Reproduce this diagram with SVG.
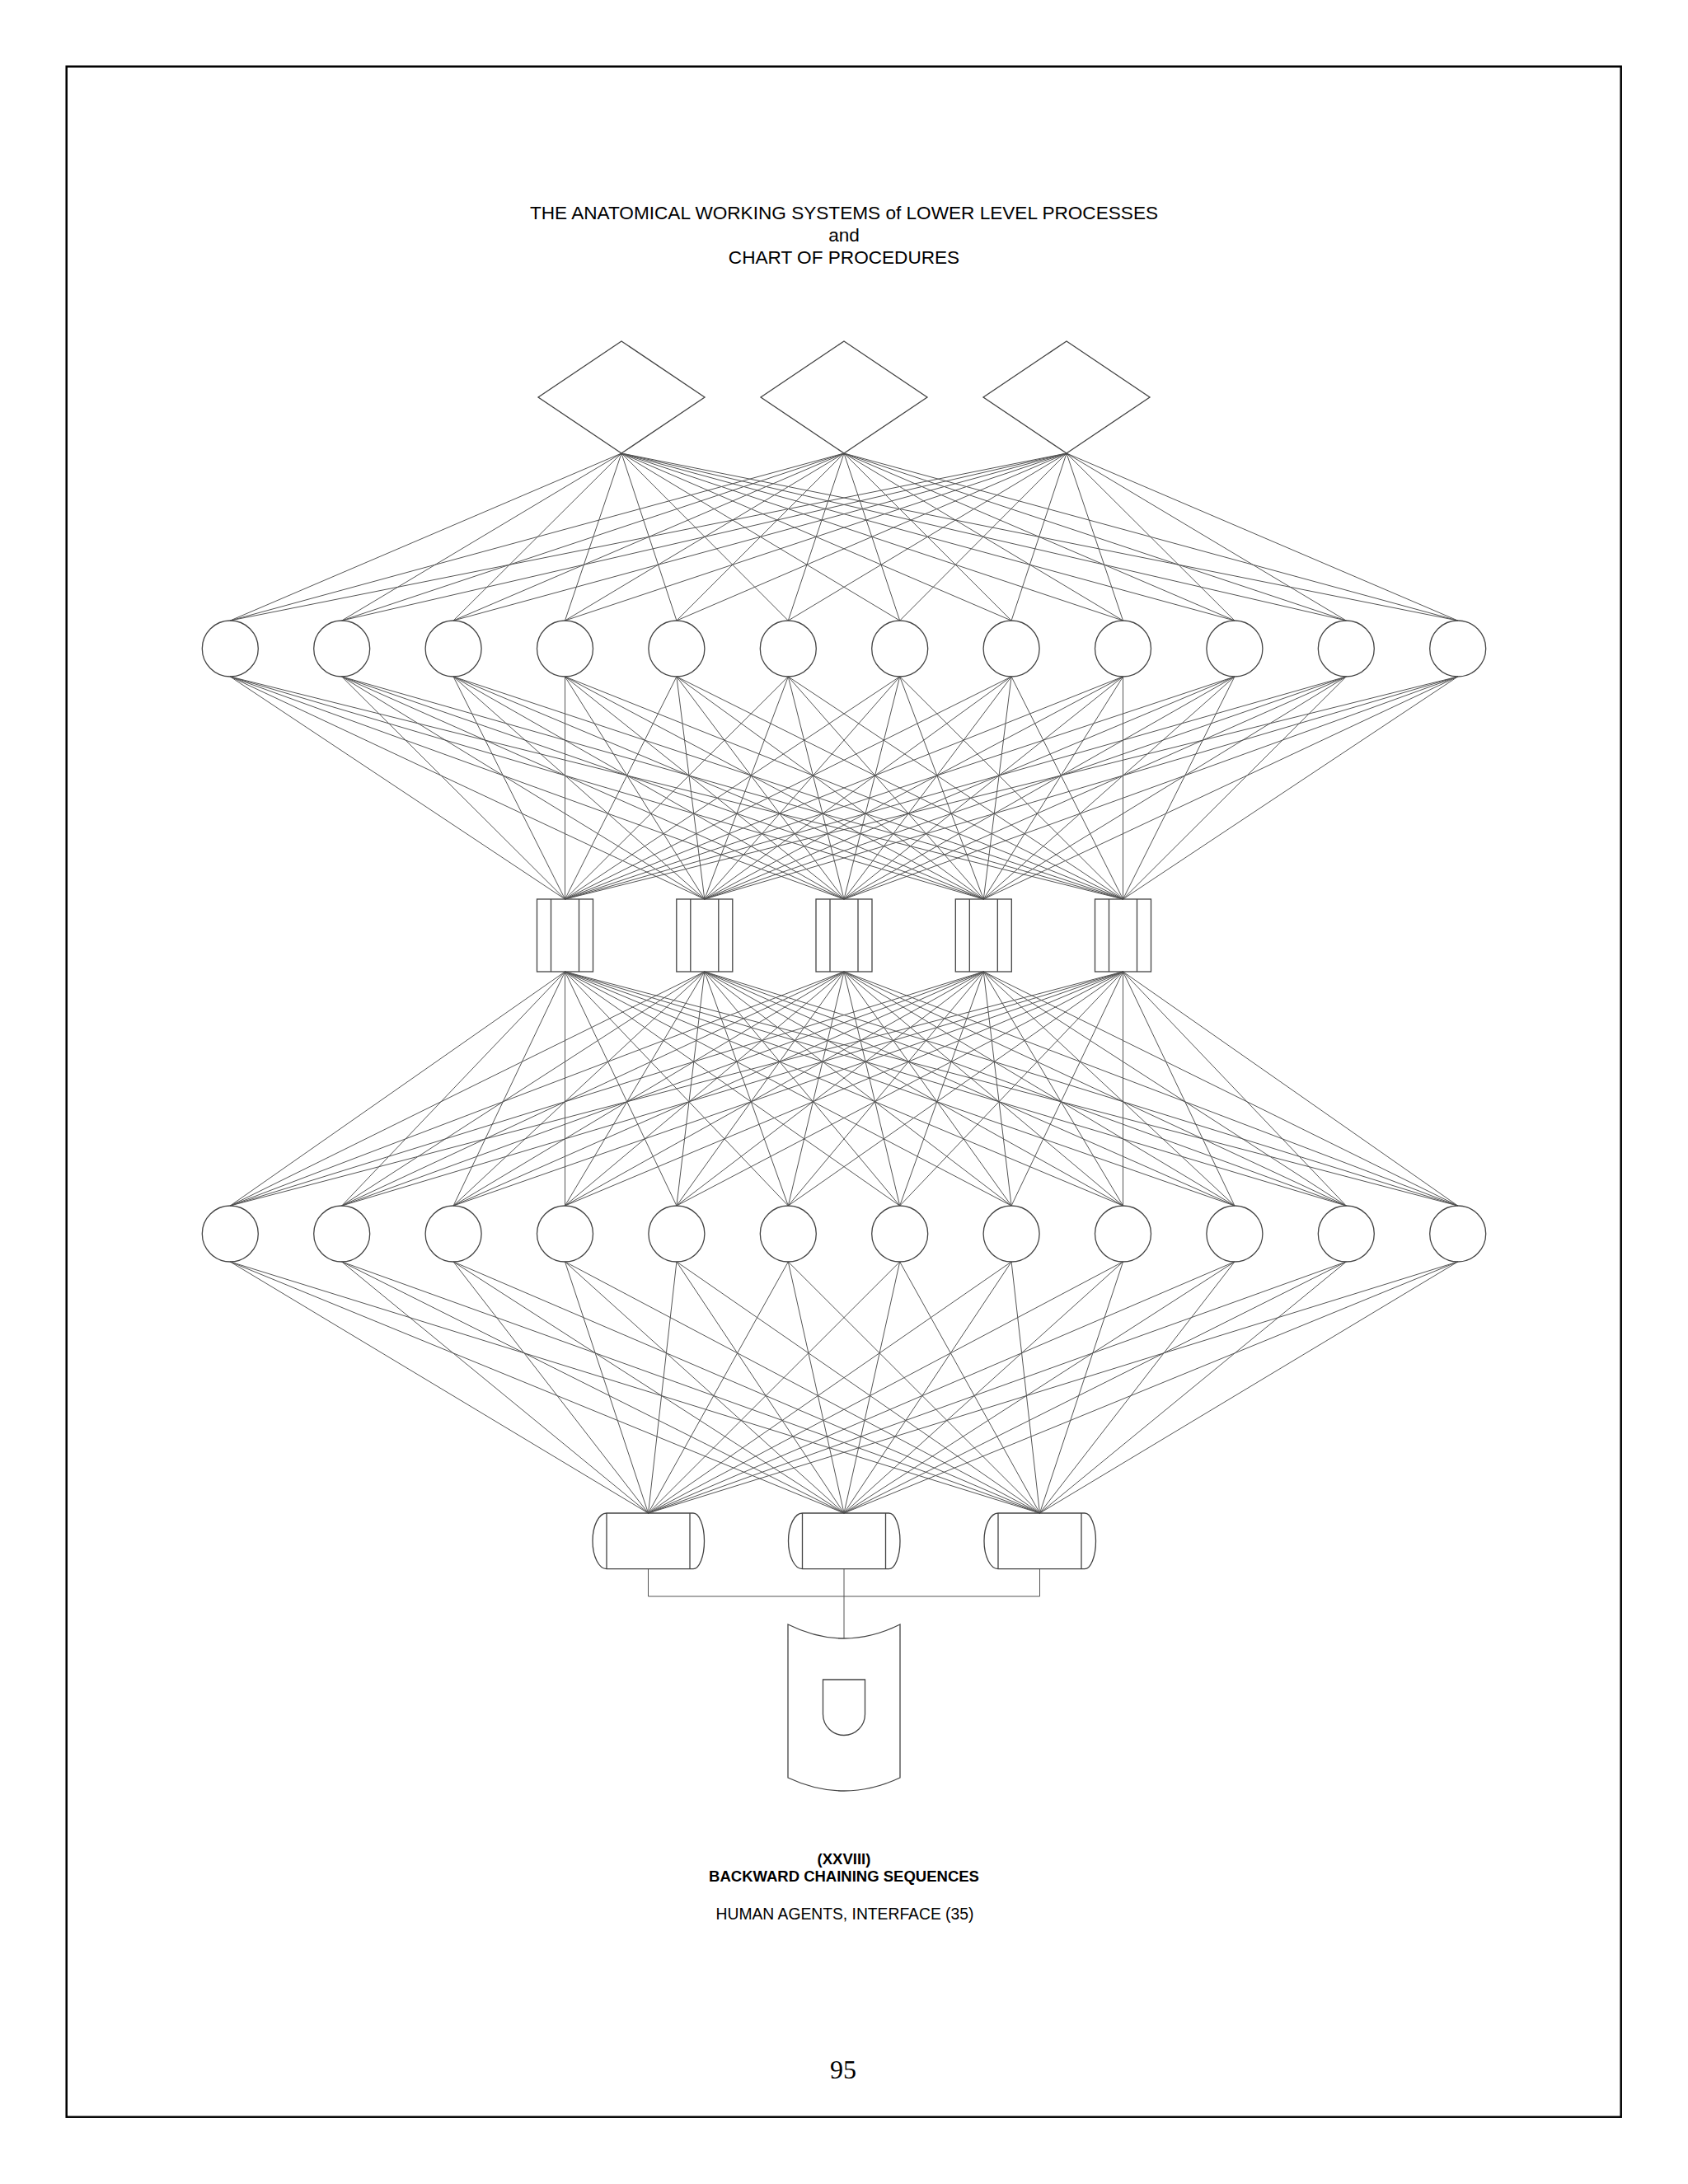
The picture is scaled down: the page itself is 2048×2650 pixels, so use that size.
<svg xmlns="http://www.w3.org/2000/svg" width="2048" height="2650" viewBox="0 0 2048 2650">
<style>
.shape{fill:none;stroke:#444;stroke-width:1.3}
.conn{fill:none;stroke:#555;stroke-width:1}
.title{font-family:"Liberation Sans",Arial,sans-serif;font-size:22.6px;fill:#000;text-anchor:middle}
.cap{font-family:"Liberation Sans",Arial,sans-serif;font-size:18.5px;font-weight:bold;fill:#000;text-anchor:middle}
.sub{font-family:"Liberation Sans",Arial,sans-serif;font-size:19.3px;fill:#000;text-anchor:middle}
.page{font-family:"Liberation Serif","Times New Roman",serif;font-size:32px;fill:#000;text-anchor:middle}
</style>
<rect x="0" y="0" width="2048" height="2650" fill="#fff"/>
<rect x="80.7" y="80.7" width="1886" height="2488" fill="none" stroke="#000" stroke-width="2.5"/>
<g id="title">
<text class="title" x="1024" y="266">THE ANATOMICAL WORKING SYSTEMS of LOWER LEVEL PROCESSES</text>
<text class="title" x="1024" y="293">and</text>
<text class="title" x="1024" y="320">CHART OF PROCEDURES</text>
</g>
<g id="connectors" class="conn">
<path d="M754,550L279.3,753M754,550L414.7,753M754,550L550.1,753M754,550L685.5,753M754,550L820.9,753M754,550L956.3,753M754,550L1091.7,753M754,550L1227.1,753M754,550L1362.5,753M754,550L1497.9,753M754,550L1633.3,753M754,550L1768.7,753"/>
<path d="M1024,550L279.3,753M1024,550L414.7,753M1024,550L550.1,753M1024,550L685.5,753M1024,550L820.9,753M1024,550L956.3,753M1024,550L1091.7,753M1024,550L1227.1,753M1024,550L1362.5,753M1024,550L1497.9,753M1024,550L1633.3,753M1024,550L1768.7,753"/>
<path d="M1294,550L279.3,753M1294,550L414.7,753M1294,550L550.1,753M1294,550L685.5,753M1294,550L820.9,753M1294,550L956.3,753M1294,550L1091.7,753M1294,550L1227.1,753M1294,550L1362.5,753M1294,550L1497.9,753M1294,550L1633.3,753M1294,550L1768.7,753"/>
<path d="M279.3,821L685.5,1091M279.3,821L854.8,1091M279.3,821L1024,1091M279.3,821L1193.3,1091M279.3,821L1362.5,1091
M414.7,821L685.5,1091M414.7,821L854.8,1091M414.7,821L1024,1091M414.7,821L1193.3,1091M414.7,821L1362.5,1091
M550.1,821L685.5,1091M550.1,821L854.8,1091M550.1,821L1024,1091M550.1,821L1193.3,1091M550.1,821L1362.5,1091
M685.5,821L685.5,1091M685.5,821L854.8,1091M685.5,821L1024,1091M685.5,821L1193.3,1091M685.5,821L1362.5,1091
M820.9,821L685.5,1091M820.9,821L854.8,1091M820.9,821L1024,1091M820.9,821L1193.3,1091M820.9,821L1362.5,1091
M956.3,821L685.5,1091M956.3,821L854.8,1091M956.3,821L1024,1091M956.3,821L1193.3,1091M956.3,821L1362.5,1091
M1091.7,821L685.5,1091M1091.7,821L854.8,1091M1091.7,821L1024,1091M1091.7,821L1193.3,1091M1091.7,821L1362.5,1091
M1227.1,821L685.5,1091M1227.1,821L854.8,1091M1227.1,821L1024,1091M1227.1,821L1193.3,1091M1227.1,821L1362.5,1091
M1362.5,821L685.5,1091M1362.5,821L854.8,1091M1362.5,821L1024,1091M1362.5,821L1193.3,1091M1362.5,821L1362.5,1091
M1497.9,821L685.5,1091M1497.9,821L854.8,1091M1497.9,821L1024,1091M1497.9,821L1193.3,1091M1497.9,821L1362.5,1091
M1633.3,821L685.5,1091M1633.3,821L854.8,1091M1633.3,821L1024,1091M1633.3,821L1193.3,1091M1633.3,821L1362.5,1091
M1768.7,821L685.5,1091M1768.7,821L854.8,1091M1768.7,821L1024,1091M1768.7,821L1193.3,1091M1768.7,821L1362.5,1091"/>
<path d="M685.5,1179L279.3,1463M685.5,1179L414.7,1463M685.5,1179L550.1,1463M685.5,1179L685.5,1463M685.5,1179L820.9,1463M685.5,1179L956.3,1463M685.5,1179L1091.7,1463M685.5,1179L1227.1,1463M685.5,1179L1362.5,1463M685.5,1179L1497.9,1463M685.5,1179L1633.3,1463M685.5,1179L1768.7,1463
M854.8,1179L279.3,1463M854.8,1179L414.7,1463M854.8,1179L550.1,1463M854.8,1179L685.5,1463M854.8,1179L820.9,1463M854.8,1179L956.3,1463M854.8,1179L1091.7,1463M854.8,1179L1227.1,1463M854.8,1179L1362.5,1463M854.8,1179L1497.9,1463M854.8,1179L1633.3,1463M854.8,1179L1768.7,1463
M1024,1179L279.3,1463M1024,1179L414.7,1463M1024,1179L550.1,1463M1024,1179L685.5,1463M1024,1179L820.9,1463M1024,1179L956.3,1463M1024,1179L1091.7,1463M1024,1179L1227.1,1463M1024,1179L1362.5,1463M1024,1179L1497.9,1463M1024,1179L1633.3,1463M1024,1179L1768.7,1463
M1193.3,1179L279.3,1463M1193.3,1179L414.7,1463M1193.3,1179L550.1,1463M1193.3,1179L685.5,1463M1193.3,1179L820.9,1463M1193.3,1179L956.3,1463M1193.3,1179L1091.7,1463M1193.3,1179L1227.1,1463M1193.3,1179L1362.5,1463M1193.3,1179L1497.9,1463M1193.3,1179L1633.3,1463M1193.3,1179L1768.7,1463
M1362.5,1179L279.3,1463M1362.5,1179L414.7,1463M1362.5,1179L550.1,1463M1362.5,1179L685.5,1463M1362.5,1179L820.9,1463M1362.5,1179L956.3,1463M1362.5,1179L1091.7,1463M1362.5,1179L1227.1,1463M1362.5,1179L1362.5,1463M1362.5,1179L1497.9,1463M1362.5,1179L1633.3,1463M1362.5,1179L1768.7,1463"/>
<path d="M279.3,1531L786.5,1836M279.3,1531L1024,1836M279.3,1531L1261.5,1836
M414.7,1531L786.5,1836M414.7,1531L1024,1836M414.7,1531L1261.5,1836
M550.1,1531L786.5,1836M550.1,1531L1024,1836M550.1,1531L1261.5,1836
M685.5,1531L786.5,1836M685.5,1531L1024,1836M685.5,1531L1261.5,1836
M820.9,1531L786.5,1836M820.9,1531L1024,1836M820.9,1531L1261.5,1836
M956.3,1531L786.5,1836M956.3,1531L1024,1836M956.3,1531L1261.5,1836
M1091.7,1531L786.5,1836M1091.7,1531L1024,1836M1091.7,1531L1261.5,1836
M1227.1,1531L786.5,1836M1227.1,1531L1024,1836M1227.1,1531L1261.5,1836
M1362.5,1531L786.5,1836M1362.5,1531L1024,1836M1362.5,1531L1261.5,1836
M1497.9,1531L786.5,1836M1497.9,1531L1024,1836M1497.9,1531L1261.5,1836
M1633.3,1531L786.5,1836M1633.3,1531L1024,1836M1633.3,1531L1261.5,1836
M1768.7,1531L786.5,1836M1768.7,1531L1024,1836M1768.7,1531L1261.5,1836"/>
<path d="M786.5,1903.6V1937H1261.5V1903.6M1024,1903.6V1988"/>
</g>
<g id="diamond1"><path class="shape" d="M754,414L855,482L754,550L653,482Z"/></g>
<g id="diamond2"><path class="shape" d="M1024,414L1125,482L1024,550L923,482Z"/></g>
<g id="diamond3"><path class="shape" d="M1294,414L1395,482L1294,550L1193,482Z"/></g>
<g id="top-circles" class="shape">
<circle id="tc1" cx="279.3" cy="787" r="34"/>
<circle id="tc2" cx="414.7" cy="787" r="34"/>
<circle id="tc3" cx="550.1" cy="787" r="34"/>
<circle id="tc4" cx="685.5" cy="787" r="34"/>
<circle id="tc5" cx="820.9" cy="787" r="34"/>
<circle id="tc6" cx="956.3" cy="787" r="34"/>
<circle id="tc7" cx="1091.7" cy="787" r="34"/>
<circle id="tc8" cx="1227.1" cy="787" r="34"/>
<circle id="tc9" cx="1362.5" cy="787" r="34"/>
<circle id="tc10" cx="1497.9" cy="787" r="34"/>
<circle id="tc11" cx="1633.3" cy="787" r="34"/>
<circle id="tc12" cx="1768.7" cy="787" r="34"/>
</g>
<g id="rect1" class="shape"><rect x="651.5" y="1091" width="68" height="88"/><path d="M668.5,1091V1179M702.5,1091V1179"/></g>
<g id="rect2" class="shape"><rect x="820.8" y="1091" width="68" height="88"/><path d="M837.8,1091V1179M871.8,1091V1179"/></g>
<g id="rect3" class="shape"><rect x="990" y="1091" width="68" height="88"/><path d="M1007,1091V1179M1041,1091V1179"/></g>
<g id="rect4" class="shape"><rect x="1159.3" y="1091" width="68" height="88"/><path d="M1176.3,1091V1179M1210.3,1091V1179"/></g>
<g id="rect5" class="shape"><rect x="1328.5" y="1091" width="68" height="88"/><path d="M1345.5,1091V1179M1379.5,1091V1179"/></g>
<g id="bottom-circles" class="shape">
<circle id="bc1" cx="279.3" cy="1497" r="34"/>
<circle id="bc2" cx="414.7" cy="1497" r="34"/>
<circle id="bc3" cx="550.1" cy="1497" r="34"/>
<circle id="bc4" cx="685.5" cy="1497" r="34"/>
<circle id="bc5" cx="820.9" cy="1497" r="34"/>
<circle id="bc6" cx="956.3" cy="1497" r="34"/>
<circle id="bc7" cx="1091.7" cy="1497" r="34"/>
<circle id="bc8" cx="1227.1" cy="1497" r="34"/>
<circle id="bc9" cx="1362.5" cy="1497" r="34"/>
<circle id="bc10" cx="1497.9" cy="1497" r="34"/>
<circle id="bc11" cx="1633.3" cy="1497" r="34"/>
<circle id="bc12" cx="1768.7" cy="1497" r="34"/>
</g>
<g id="drum1" class="shape"><path d="M736,1836H841M736,1903.6H841M736,1836V1903.6M837,1836V1903.6M736,1836A17,33.8 0 0 0 736,1903.6M841,1836A13.5,33.8 0 0 1 841,1903.6"/></g>
<g id="drum2" class="shape"><path d="M973.5,1836H1078.5M973.5,1903.6H1078.5M973.5,1836V1903.6M1074.5,1836V1903.6M973.5,1836A17,33.8 0 0 0 973.5,1903.6M1078.5,1836A13.5,33.8 0 0 1 1078.5,1903.6"/></g>
<g id="drum3" class="shape"><path d="M1211,1836H1316M1211,1903.6H1316M1211,1836V1903.6M1312,1836V1903.6M1211,1836A17,33.8 0 0 0 1211,1903.6M1316,1836A13.5,33.8 0 0 1 1316,1903.6"/></g>
<g id="store" class="shape">
<path d="M956,1971Q1024,2005 1092,1971V2157Q1024,2189 956,2157Z"/>
<path d="M998.5,2038H1049.5V2080A25.5,25.5 0 0 1 998.5,2080Z"/>
</g>
<g id="caption">
<text class="cap" x="1024" y="2262">(XXVIII)</text>
<text class="cap" x="1024" y="2283">BACKWARD CHAINING SEQUENCES</text>
<text class="sub" x="1025" y="2329">HUMAN AGENTS, INTERFACE (35)</text>
</g>
<text class="page" x="1023" y="2522">95</text>
</svg>
